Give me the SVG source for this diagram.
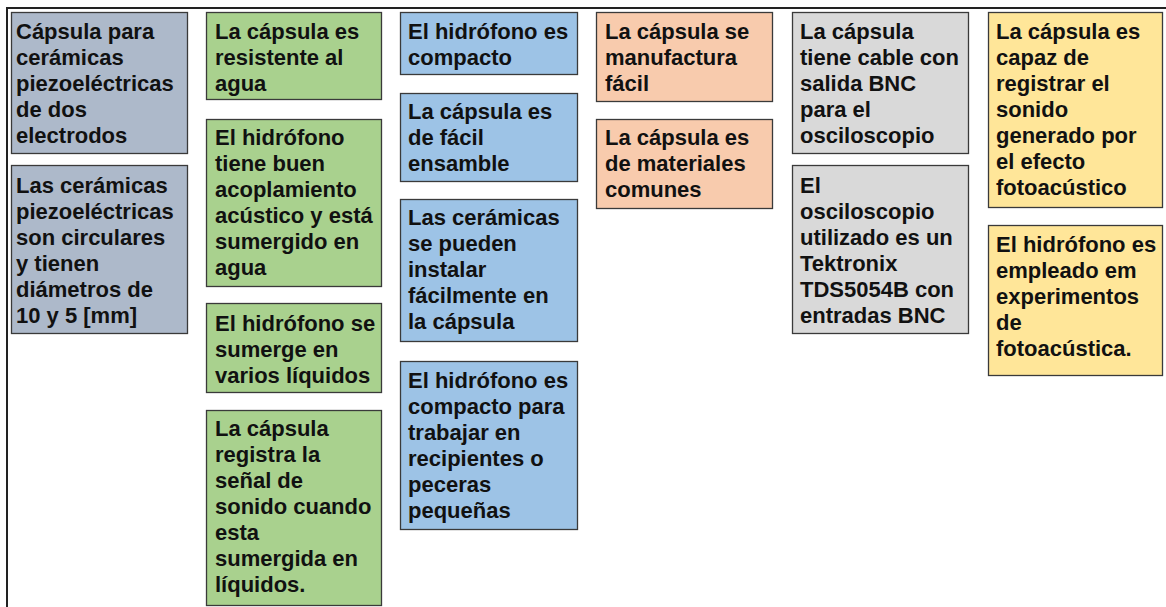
<svg xmlns="http://www.w3.org/2000/svg" width="1166" height="607" viewBox="0 0 1166 607">
<style>
.b{stroke:#3a3a3a;stroke-width:1.3}
.c1{fill:#adb9ca}.c2{fill:#a9d18e}.c3{fill:#9dc3e6}.c4{fill:#f8cbad}.c5{fill:#d9d9d9}.c6{fill:#ffe699}
text{font-family:"Liberation Sans",Arial,sans-serif;font-weight:bold;font-size:22px;fill:#111}
.f{fill:none;stroke:#222;stroke-width:2}
</style>
<rect width="1166" height="607" fill="#fff"/>
<path class="f" d="M7 607V8H1166"/>
<g id="connectors"></g>

<g id="n1"><rect class="b c1" x="11.5" y="12.5" width="176" height="141"/>
<text x="16" y="39"><tspan x="16">Cápsula para</tspan><tspan x="16" dy="26">cerámicas</tspan><tspan x="16" dy="26">piezoeléctricas</tspan><tspan x="16" dy="26">de dos</tspan><tspan x="16" dy="26">electrodos</tspan></text></g>
<g id="n2"><rect class="b c1" x="11.5" y="165.5" width="176" height="168"/>
<text x="16" y="193"><tspan x="16">Las cerámicas</tspan><tspan x="16" dy="26">piezoeléctricas</tspan><tspan x="16" dy="26">son circulares</tspan><tspan x="16" dy="26">y tienen</tspan><tspan x="16" dy="26">diámetros de</tspan><tspan x="16" dy="26">10 y 5 [mm]</tspan></text></g>

<g id="n3"><rect class="b c2" x="206.5" y="12.5" width="175" height="87"/>
<text y="39"><tspan x="215">La cápsula es</tspan><tspan x="215" dy="26">resistente al</tspan><tspan x="215" dy="26">agua</tspan></text></g>
<g id="n4"><rect class="b c2" x="206.5" y="119.5" width="175" height="167"/>
<text y="145"><tspan x="215">El hidrófono</tspan><tspan x="215" dy="26">tiene buen</tspan><tspan x="215" dy="26">acoplamiento</tspan><tspan x="215" dy="26">acústico y está</tspan><tspan x="215" dy="26">sumergido en</tspan><tspan x="215" dy="26">agua</tspan></text></g>
<g id="n5"><rect class="b c2" x="206.5" y="303.5" width="175" height="89"/>
<text y="331"><tspan x="215">El hidrófono se</tspan><tspan x="215" dy="26">sumerge en</tspan><tspan x="215" dy="26">varios líquidos</tspan></text></g>
<g id="n6"><rect class="b c2" x="206.5" y="410.5" width="175" height="195"/>
<text y="436"><tspan x="215">La cápsula</tspan><tspan x="215" dy="26">registra la</tspan><tspan x="215" dy="26">señal de</tspan><tspan x="215" dy="26">sonido cuando</tspan><tspan x="215" dy="26">esta</tspan><tspan x="215" dy="26">sumergida en</tspan><tspan x="215" dy="26">líquidos.</tspan></text></g>

<g id="n7"><rect class="b c3" x="400.5" y="12.5" width="177" height="62"/>
<text y="39"><tspan x="408">El hidrófono es</tspan><tspan x="408" dy="26">compacto</tspan></text></g>
<g id="n8"><rect class="b c3" x="400.5" y="93.5" width="177" height="88"/>
<text y="119"><tspan x="408">La cápsula es</tspan><tspan x="408" dy="26">de fácil</tspan><tspan x="408" dy="26">ensamble</tspan></text></g>
<g id="n9"><rect class="b c3" x="400.5" y="199.5" width="177" height="142"/>
<text y="225"><tspan x="408">Las cerámicas</tspan><tspan x="408" dy="26">se pueden</tspan><tspan x="408" dy="26">instalar</tspan><tspan x="408" dy="26">fácilmente en</tspan><tspan x="408" dy="26">la cápsula</tspan></text></g>
<g id="n10"><rect class="b c3" x="400.5" y="361.5" width="177" height="168"/>
<text y="388"><tspan x="408">El hidrófono es</tspan><tspan x="408" dy="26">compacto para</tspan><tspan x="408" dy="26">trabajar en</tspan><tspan x="408" dy="26">recipientes o</tspan><tspan x="408" dy="26">peceras</tspan><tspan x="408" dy="26">pequeñas</tspan></text></g>

<g id="n11"><rect class="b c4" x="596.5" y="12.5" width="176" height="89"/>
<text y="39"><tspan x="605">La cápsula se</tspan><tspan x="605" dy="26">manufactura</tspan><tspan x="605" dy="26">fácil</tspan></text></g>
<g id="n12"><rect class="b c4" x="596.5" y="119.5" width="176" height="89"/>
<text y="145"><tspan x="605">La cápsula es</tspan><tspan x="605" dy="26">de materiales</tspan><tspan x="605" dy="26">comunes</tspan></text></g>

<g id="n13"><rect class="b c5" x="792.5" y="12.5" width="176" height="141"/>
<text y="39"><tspan x="800">La cápsula</tspan><tspan x="800" dy="26">tiene cable con</tspan><tspan x="800" dy="26">salida BNC</tspan><tspan x="800" dy="26">para el</tspan><tspan x="800" dy="26">osciloscopio</tspan></text></g>
<g id="n14"><rect class="b c5" x="792.5" y="165.5" width="176" height="168"/>
<text y="193"><tspan x="800">El</tspan><tspan x="800" dy="26">osciloscopio</tspan><tspan x="800" dy="26">utilizado es un</tspan><tspan x="800" dy="26">Tektronix</tspan><tspan x="800" dy="26">TDS5054B con</tspan><tspan x="800" dy="26">entradas BNC</tspan></text></g>

<g id="n15"><rect class="b c6" x="988.5" y="12.5" width="174" height="195"/>
<text y="39"><tspan x="996">La cápsula es</tspan><tspan x="996" dy="26">capaz de</tspan><tspan x="996" dy="26">registrar el</tspan><tspan x="996" dy="26">sonido</tspan><tspan x="996" dy="26">generado por</tspan><tspan x="996" dy="26">el efecto</tspan><tspan x="996" dy="26">fotoacústico</tspan></text></g>
<g id="n16"><rect class="b c6" x="988.5" y="225.5" width="174" height="150"/>
<text y="252"><tspan x="996">El hidrófono es</tspan><tspan x="996" dy="26">empleado em</tspan><tspan x="996" dy="26">experimentos</tspan><tspan x="996" dy="26">de</tspan><tspan x="996" dy="26">fotoacústica.</tspan></text></g>
</svg>
